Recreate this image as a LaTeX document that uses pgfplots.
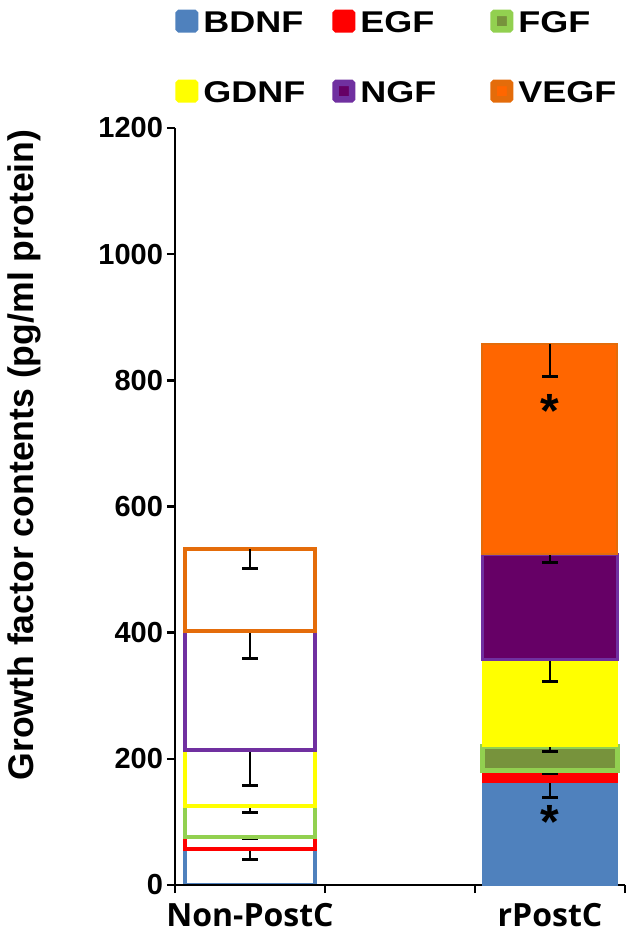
\documentclass[border=0pt]{standalone}
\usepackage{fontspec}
\setmainfont{Liberation Sans}
\newfontfamily\legfont{Liberation Sans}[FakeStretch=1.2]
\newfontfamily\catfont{Open Sans}
\usepackage{pgfplots}
\pgfplotsset{compat=1.18}

\definecolor{cBDNF}{HTML}{4F81BD}
\definecolor{cEGF}{HTML}{FF0000}
\definecolor{cFGF}{HTML}{92D050}
\definecolor{cFGFin}{HTML}{77933C}
\definecolor{cGDNF}{HTML}{FFFF00}
\definecolor{cNGF}{HTML}{7030A0}
\definecolor{cNGFin}{HTML}{660066}
\definecolor{cVEGF}{HTML}{E46C0A}
\definecolor{cVEGFin}{HTML}{FF6600}

\pgfplotsset{
  common/.style={
    width=225pt, height=378.5pt, scale only axis,
    xmin=-0.5, xmax=2.5, ymin=0, ymax=1200,
    ybar stacked, bar width=0.9, reverse stacked plots=false,
  },
  eb/.style={
    error bars/.cd, y dir=minus, y explicit,
    error bar style={black, line width=1.4pt},
    error mark options={black, line width=1.5pt, mark size=4pt, rotate=90}},
}

\begin{document}
\begin{tikzpicture}
\useasboundingbox (-87.5pt,-24.5pt) rectangle (230.5pt,442.5pt);

% Non-PostC: outlined segments
\begin{axis}[common, hide axis, bar width=0.87]
\addplot[draw=cBDNF, fill=white, line width=2pt, eb] coordinates {(0,57) -= (0,17)};
\addplot[draw=cEGF,  fill=white, line width=2pt, eb] coordinates {(0,19) -= (0,3)};
\addplot[draw=cFGF,  fill=white, line width=2pt, eb] coordinates {(0,50) -= (0,11)};
\addplot[draw=cGDNF, fill=white, line width=2pt, eb] coordinates {(0,88) -= (0,57)};
\addplot[draw=cNGF,  fill=white, line width=2pt, eb] coordinates {(0,188) -= (0,43)};
\addplot[draw=cVEGF, fill=white, line width=2pt, eb] coordinates {(0,130) -= (0,30)};
\end{axis}

% rPostC: filled segments, axes and legend
\begin{axis}[common,
  axis x line*=bottom, axis y line*=left,
  axis line style={-, line width=1.25pt},
  tick align=outside, major tick length=4pt, minor tick length=4pt,
  ytick={0,200,...,1200},
  xtick={0,2}, xticklabels={Non-PostC, rPostC},
  minor xtick={-0.5,0.5,1.5,2.5},
  major x tick style={draw=none},
  minor x tick style={black, line width=1.25pt},
  ytick style={black, line width=1.25pt},
  /pgf/number format/.cd, assume math mode=true, 1000 sep={},
  /pgfplots/.cd,
  yticklabel style={font=\bfseries\fontsize{14.5}{14.5}\selectfont, xshift=1.5pt},
  xticklabel style={font=\catfont\bfseries\fontsize{16}{16}\selectfont, yshift=-1.5pt},
  ylabel={Growth factor contents (pg/ml protein)},
  ylabel style={font=\bfseries\fontsize{17.8}{17.8}\selectfont,
    at={(axis description cs:-0.3356,0.568)}, anchor=center},
  legend columns=3,
  legend cell align=left,
  legend image code/.code={
    \draw[#1, line width=3.25pt, rounded corners=0.5pt] (1.625pt,-2.875pt) rectangle (9.875pt,5.375pt);},
  legend style={draw=none, fill=none, inner sep=0pt,
    at={(rel axis cs:0,1)}, anchor=south west, yshift=11pt,
    nodes={inner sep=0pt},
    row sep=22pt,
    font=\legfont\bfseries\fontsize{15}{15}\selectfont,
    /tikz/every odd column/.append style={column sep=2.5pt},
    /tikz/every even column/.append style={column sep=0pt}},
]
\addplot[draw=cBDNF, fill=cBDNF, line width=0.5pt, eb] coordinates {(2,163) -= (0,24)};
\addlegendentry{\makebox[64.5pt][l]{BDNF}}
\addplot[draw=cEGF, fill=cEGF, line width=0.5pt, eb] coordinates {(2,18) -= (0,4)};
\addlegendentry{\makebox[65pt][l]{EGF}}
\addplot[draw=cFGF, fill=cFGFin, line width=2.5pt, eb] coordinates {(2,39) -= (0,9)};
\addlegendentry{FGF}
\addplot[draw=cGDNF, fill=cGDNF, line width=0.5pt, eb] coordinates {(2,138) -= (0,35)};
\addlegendentry{\makebox[64.5pt][l]{GDNF}}
\addplot[draw=cNGF, fill=cNGFin, line width=1.5pt, eb] coordinates {(2,166) -= (0,13)};
\addlegendentry{\makebox[65pt][l]{NGF}}
\addplot[draw=cVEGF, fill=cVEGFin, line width=1pt, eb] coordinates {(2,334) -= (0,52)};
\addlegendentry{VEGF}
\coordinate (s1) at (axis cs:2,726);
\coordinate (s2) at (axis cs:2,73);
\end{axis}
\node[anchor=base, font=\bfseries\fontsize{24}{24}\selectfont, inner sep=0pt] at (s1) {*};
\node[anchor=base, font=\bfseries\fontsize{24}{24}\selectfont, inner sep=0pt] at (s2) {*};
\end{tikzpicture}
\end{document}
